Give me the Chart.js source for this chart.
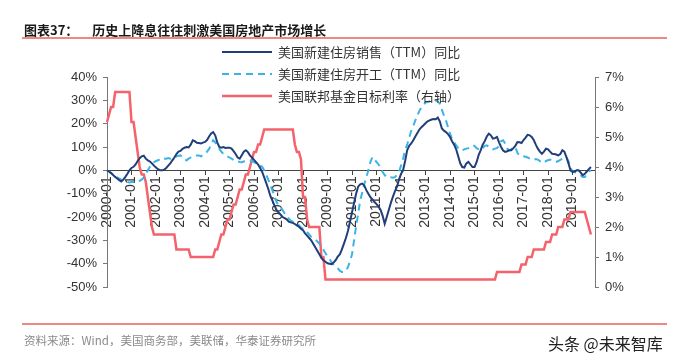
<!DOCTYPE html>
<html>
<head>
<meta charset="utf-8">
<script src="https://cdn.jsdelivr.net/npm/chart.js@4.4.1/dist/chart.umd.min.js"></script>
<style>
  html, body { margin: 0; padding: 0; background: #fff; }
  #wrap { position: relative; width: 683px; height: 361px; overflow: hidden; background: #fff; }
  #c { position: absolute; left: 0; top: 0; }
  .t { position: absolute; white-space: nowrap; font-family: "Noto Sans CJK SC", sans-serif; }
  #title { left: 24px; top: 21px; font-size: 13px; font-weight: bold; color: #1a1a1a; line-height: 17px; }
  #title span { margin-left: 14px; }
  .rule { position: absolute; left: 22px; width: 645px; height: 2px; background: #ec8a7e; }
  #src { left: 24px; top: 332px; font-size: 11.5px; color: #8a8a8a; line-height: 17px; }
  #wm { left: 548px; top: 332px; font-size: 16px; color: #222; line-height: 22px; }
  .lg { position: absolute; left: 222px; height: 18px; }
  .lg svg { position: absolute; left: 0; top: 0; }
  .lg div { position: absolute; left: 56px; top: 0; font-family: "Noto Sans CJK SC", sans-serif; font-size: 13px; line-height: 18px; color: #333; white-space: nowrap; }
</style>
</head>
<body>
<div id="wrap">
  <canvas id="c" width="683" height="361"></canvas>
  <div id="title" class="t">图表37：<span>历史上降息往往刺激美国房地产市场增长</span></div>
  <div class="rule" style="top:37px"></div>
  <div class="lg" style="top:43px"><svg width="52" height="18"><line x1="0" y1="9" x2="50" y2="9" stroke="#1f3e7a" stroke-width="2"/></svg><div>美国新建住房销售（TTM）同比</div></div>
  <div class="lg" style="top:65px"><svg width="52" height="18"><line x1="0" y1="9" x2="50" y2="9" stroke="#3ab4e6" stroke-width="2" stroke-dasharray="7,5"/></svg><div>美国新建住房开工（TTM）同比</div></div>
  <div class="lg" style="top:87px"><svg width="52" height="18"><line x1="0" y1="9" x2="50" y2="9" stroke="#f4636b" stroke-width="2.5"/></svg><div>美国联邦基金目标利率（右轴）</div></div>
  <div class="rule" style="top:323px"></div>
  <div id="src" class="t">资料来源：Wind，美国商务部，美联储，华泰证券研究所</div>
  <div id="wm" class="t">头条 @未来智库</div>
</div>
<script>
// Categories: monthly, 2000-01 .. 2019-12
const years = [2000,2001,2002,2003,2004,2005,2006,2007,2008,2009,2010,2011,2012,2013,2014,2015,2016,2017,2018,2019];
const months = ["01","02","03","04","05","06","07","08","09","10","11","12"];
const categories = [];
years.forEach(y => months.forEach(m => categories.push(y + "-" + m)));

// 美国新建住房销售（TTM）同比, %
const salesYoY = [
  0, -0.5, -1.2, -2, -2.8, -3.5, -4.2, -4.8, -4, -2.8, -1.5, 0,
  1, 1.5, 2.5, 4, 5.2, 6, 6.3, 5, 4.3, 3.8, 3, 2,
  1.2, 0.5, 0, 0, 0.3, 1, 2, 3, 4.3, 5.5, 7, 8,
  8.3, 9.2, 9.7, 10, 9.8, 11, 12.9, 12.5, 11.8, 11.7, 11.5, 11.9,
  12.2, 13, 14.5, 15.8, 16.4, 15, 12, 10, 9.7, 10, 9.6, 9.7,
  9.7, 9.3, 8.2, 7, 5.5, 5, 6.5, 8, 8.6, 7.8, 6.4, 5.5,
  4.5, 3.5, 2.5, 1, -0.7, -3, -5.5, -8, -11, -13, -15, -17,
  -18, -19, -20, -20.5, -21, -22, -22.3, -22.5, -23, -23.6, -24.2, -25,
  -25.7, -27, -28, -29, -30, -31.5, -33, -34.5, -36, -37.5, -38.5, -39.2,
  -39.8, -40, -40.2, -39.5, -38.5, -37, -36, -34, -31.5, -29, -26, -22,
  -18, -14, -10, -7, -6, -5.7, -6.5, -8.5, -10, -11.5, -12.5, -13.6,
  -14.5, -15.5, -17, -19.5, -22.9, -20, -17, -14, -11.4, -9, -7, -4,
  -1.5, 0, 4, 8.6, 10.5, 11.5, 12.9, 14.5, 16, 17.5, 18.5, 19.3,
  20.2, 21, 21.4, 21.8, 22, 21.9, 22.6, 21, 17.9, 17, 16.4, 15.5,
  14.3, 12.5, 11, 9, 6, 3, 1.4, 1.2, 3, 3.6, 2.5, 1.4,
  1.4, 3.5, 6.5, 8.6, 11, 12.5, 14.5, 15.7, 15, 13.6, 13.8, 14.3,
  12, 10, 8.5, 7.9, 8.2, 8.6, 8.6, 9.5, 10.5, 12.1, 12, 11.7,
  13, 14, 15.2, 15, 14.3, 13, 11, 9.3, 8, 7.1, 8, 9.3,
  9, 8, 7.1, 7, 6.8, 6.4, 7, 8.6, 8, 5.7, 3, 0,
  -0.7, -0.5, 0, 0, -1, -2.1, -1.5, -0.5, 0.5, 1.4
];

// 美国新建住房开工（TTM）同比, %
const startsYoY = [
  0, -0.5, -1.2, -2, -2.5, -3, -3.5, -4, -4.5, -5, -5, -5.2,
  -5, -5, -5, -5.2, -4.5, -4, -3, -1.5, 0, 1.5, 2.5, 3.5,
  4, 4.3, 4.8, 4.5, 5, 5, 5.3, 5, 5, 5.5, 6, 6.3,
  6.4, 5.5, 4.5, 4.3, 5, 5.5, 6, 6.2, 6.4, 6.4, 6, 6.5,
  7, 8, 9.2, 11, 12.9, 12, 10.5, 9.2, 8, 7, 6.4, 6,
  5.5, 5, 4.5, 4, 3.8, 3.6, 3.5, 3.8, 4, 4.3, 4.3, 3.8,
  3.5, 3, 2.9, 2, 1.5, 0, -2, -4, -6.5, -8.6, -11, -13.5,
  -15, -15.7, -17, -18.5, -19.5, -20.7, -21.5, -22, -22.5, -22.9, -23.5, -24.5,
  -25, -25.7, -26.5, -27.5, -28.5, -29, -29.5, -30.5, -31.4, -32.5, -34, -35.5,
  -37, -38, -39.5, -40.5, -41.5, -42, -43, -43.6, -43.6, -43, -41.5, -39,
  -36, -30, -24, -18.6, -13, -9.5, -6, -3, 0, 3.5, 5.7, 4.5,
  3.6, 2.5, 1, -0.7, -2, -2.9, -3, -3, -3.2, -2.9, -2, -0.7,
  2, 5, 8.6, 11, 14, 17, 19, 21.4, 23.5, 25.5, 27, 28,
  29, 29.3, 29.5, 30, 30.3, 30, 29.5, 28.6, 26, 23.5, 21.4, 18.5,
  15.7, 13.5, 12, 10.7, 9.5, 8.6, 8.6, 9, 9.3, 9.5, 10, 10.7,
  10.5, 9.5, 9, 8.6, 9.5, 10.5, 10.7, 10, 9.3, 9, 9.3, 9.5,
  10.5, 12.5, 12.9, 11.5, 9.3, 8.6, 9, 10, 10, 7.5, 6.4, 6,
  6, 5.8, 5.5, 5, 4.6, 4.5, 4.8, 4.6, 4, 3.3, 3.2, 4,
  4.3, 4.6, 4.2, 3.8, 3.6, 4, 4.5, 5, 5.5, 5.7, 4, 1,
  -0.3, -0.7, -1, -1.5, -2.1, -2.9, -2.9, -1.5, -0.5, 0
];

// 美国联邦基金目标利率（右轴）, %
const fedRate = [
  5.5, 5.75, 6, 6, 6.5, 6.5, 6.5, 6.5, 6.5, 6.5, 6.5, 6.5,
  5.5, 5.5, 5, 4.5, 4, 3.75, 3.75, 3.5, 3, 2.5, 2, 1.75,
  1.75, 1.75, 1.75, 1.75, 1.75, 1.75, 1.75, 1.75, 1.75, 1.75, 1.25, 1.25,
  1.25, 1.25, 1.25, 1.25, 1.25, 1, 1, 1, 1, 1, 1, 1,
  1, 1, 1, 1, 1, 1.25, 1.25, 1.5, 1.75, 1.75, 2, 2.25,
  2.25, 2.5, 2.75, 2.75, 3, 3.25, 3.25, 3.5, 3.75, 3.75, 4, 4.25,
  4.5, 4.5, 4.75, 4.75, 5, 5.25, 5.25, 5.25, 5.25, 5.25, 5.25, 5.25,
  5.25, 5.25, 5.25, 5.25, 5.25, 5.25, 5.25, 5.25, 4.75, 4.5, 4.5, 4.25,
  3, 3, 2.25, 2, 2, 2, 2, 2, 2, 1, 1, 0.25,
  0.25, 0.25, 0.25, 0.25, 0.25, 0.25, 0.25, 0.25, 0.25, 0.25, 0.25, 0.25,
  0.25, 0.25, 0.25, 0.25, 0.25, 0.25, 0.25, 0.25, 0.25, 0.25, 0.25, 0.25,
  0.25, 0.25, 0.25, 0.25, 0.25, 0.25, 0.25, 0.25, 0.25, 0.25, 0.25, 0.25,
  0.25, 0.25, 0.25, 0.25, 0.25, 0.25, 0.25, 0.25, 0.25, 0.25, 0.25, 0.25,
  0.25, 0.25, 0.25, 0.25, 0.25, 0.25, 0.25, 0.25, 0.25, 0.25, 0.25, 0.25,
  0.25, 0.25, 0.25, 0.25, 0.25, 0.25, 0.25, 0.25, 0.25, 0.25, 0.25, 0.25,
  0.25, 0.25, 0.25, 0.25, 0.25, 0.25, 0.25, 0.25, 0.25, 0.25, 0.25, 0.5,
  0.5, 0.5, 0.5, 0.5, 0.5, 0.5, 0.5, 0.5, 0.5, 0.5, 0.5, 0.75,
  0.75, 0.75, 1, 1, 1, 1.25, 1.25, 1.25, 1.25, 1.25, 1.25, 1.5,
  1.5, 1.5, 1.75, 1.75, 1.75, 2, 2, 2, 2.25, 2.25, 2.25, 2.5,
  2.5, 2.5, 2.5, 2.5, 2.5, 2.5, 2.5, 2.25, 2, 1.75
];

const leftTicks = [-50, -40, -30, -20, -10, 0, 10, 20, 30, 40];
const rightTicks = [0, 1, 2, 3, 4, 5, 6, 7];

const tickFont = { family: "'Liberation Sans', Arial, sans-serif", size: 13 };

new Chart(document.getElementById('c'), {
  type: 'line',
  data: {
    labels: categories,
    datasets: [
      { label: '美国新建住房销售（TTM）同比', data: salesYoY, yAxisID: 'y',
        borderColor: '#1f3e7a', borderWidth: 2, pointRadius: 0, tension: 0, fill: false, order: 1 },
      { label: '美国新建住房开工（TTM）同比', data: startsYoY, yAxisID: 'y',
        borderColor: '#3ab4e6', borderWidth: 2, borderDash: [7, 5], pointRadius: 0, tension: 0, fill: false, order: 2 },
      { label: '美国联邦基金目标利率（右轴）', data: fedRate, yAxisID: 'y1',
        borderColor: '#f4636b', borderWidth: 2.5, pointRadius: 0, tension: 0, fill: false, order: 3 }
    ]
  },
  options: {
    responsive: false,
    animation: false,
    devicePixelRatio: 1,
    layout: { padding: { top: 77, bottom: 74, left: 0, right: 0 } },
    plugins: { legend: { display: false }, tooltip: { enabled: false }, title: { display: false } },
    scales: {
      x: {
        type: 'category',
        position: { y: 0 },
        offset: false,
        grid: { display: true, drawOnChartArea: false, drawTicks: true, tickLength: 4, color: '#444' },
        border: { display: true, color: '#444', width: 1 },
        ticks: { autoSkip: false, maxRotation: 90, minRotation: 90, padding: 2, font: { family: tickFont.family, size: 14 }, color: '#333' },
        afterBuildTicks: (s) => { s.ticks = s.ticks.filter(t => categories[t.value].endsWith('-01')); }
      },
      y: {
        position: 'left',
        min: -50, max: 40,
        afterBuildTicks: (s) => { s.ticks = leftTicks.map(v => ({ value: v })); },
        afterFit: (s) => { s.width = 107; },
        grid: { display: true, drawOnChartArea: false, drawTicks: true, tickLength: 4, color: '#777' },
        border: { display: true, color: '#777', width: 1 },
        ticks: { padding: 6, font: tickFont, color: '#333', callback: (v) => v + '%' }
      },
      y1: {
        position: 'right',
        min: 0, max: 7,
        afterBuildTicks: (s) => { s.ticks = rightTicks.map(v => ({ value: v })); },
        afterFit: (s) => { s.width = 88; },
        grid: { display: true, drawOnChartArea: false, drawTicks: true, tickLength: 4, color: '#777' },
        border: { display: true, color: '#777', width: 1 },
        ticks: { padding: 6, font: tickFont, color: '#333', callback: (v) => v + '%' }
      }
    }
  }
});
</script>
</body>
</html>
